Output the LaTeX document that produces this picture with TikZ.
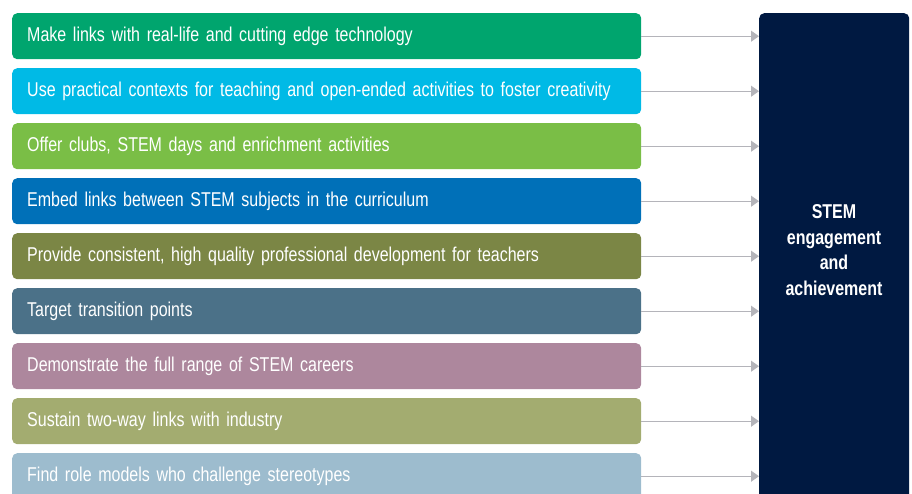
\documentclass[tikz,border=0pt]{standalone}
\usepackage{fontspec}
\setmainfont{Liberation Sans}[FakeStretch=0.8,WordSpace=0.7]
\usetikzlibrary{arrows.meta}

\definecolor{boxA}{RGB}{0,165,110}
\definecolor{boxB}{RGB}{0,186,230}
\definecolor{boxC}{RGB}{122,190,70}
\definecolor{boxD}{RGB}{0,112,184}
\definecolor{boxE}{RGB}{123,134,69}
\definecolor{boxF}{RGB}{75,113,136}
\definecolor{boxG}{RGB}{173,135,157}
\definecolor{boxH}{RGB}{163,172,112}
\definecolor{boxI}{RGB}{157,188,206}
\definecolor{navy}{RGB}{0,25,65}
\definecolor{linkgray}{RGB}{180,180,186}

\tikzset{
  item/.style={anchor=north west, rounded corners=5pt, text=white,
    minimum height=46pt, inner xsep=15pt, inner ysep=0pt,
    text width=599pt, align=left, font=\fontsize{20}{24}\selectfont},
  goal/.style={anchor=north west, fill=navy, rounded corners=5pt,
    minimum width=150pt, minimum height=487pt, inner sep=0pt},
  goaltext/.style={text=white, align=center,
    font=\fontsize{20}{25.5}\selectfont\bfseries},
  link/.style={draw=linkgray, line width=1.1pt,
    -{Triangle[length=8pt,width=11pt]}}
}

\begin{document}
\begin{tikzpicture}[x=1pt,y=1pt]
\useasboundingbox (0,0) rectangle (912,-493);
\node[item, fill=boxA] (m1) at (12,-13)  {Make links with real-life and cutting edge technology};
\node[item, fill=boxB] (m2) at (12,-68)  {Use practical contexts for teaching and open-ended activities to foster creativity};
\node[item, fill=boxC] (m3) at (12,-123) {Offer clubs, STEM days and enrichment activities};
\node[item, fill=boxD] (m4) at (12,-178) {Embed links between STEM subjects in the curriculum};
\node[item, fill=boxE] (m5) at (12,-233) {Provide consistent, high quality professional development for teachers};
\node[item, fill=boxF] (m6) at (12,-288) {Target transition points};
\node[item, fill=boxG] (m7) at (12,-343) {Demonstrate the full range of STEM careers};
\node[item, fill=boxH] (m8) at (12,-398) {Sustain two-way links with industry};
\node[item, fill=boxI] (m9) at (12,-453) {Find role models who challenge stereotypes};

% outcome box, runs off the bottom edge
\node[goal] (goal) at (759,-13) {};
\node[goaltext] (goallabel) at (834,-250) {STEM\\engagement\\and\\achievement};

% grey arrows into the outcome box
\draw[link] (m1.east) -- (m1.east -| goal.west);
\draw[link] (m2.east) -- (m2.east -| goal.west);
\draw[link] (m3.east) -- (m3.east -| goal.west);
\draw[link] (m4.east) -- (m4.east -| goal.west);
\draw[link] (m5.east) -- (m5.east -| goal.west);
\draw[link] (m6.east) -- (m6.east -| goal.west);
\draw[link] (m7.east) -- (m7.east -| goal.west);
\draw[link] (m8.east) -- (m8.east -| goal.west);
\draw[link] (m9.east) -- (m9.east -| goal.west);
\end{tikzpicture}
\end{document}
